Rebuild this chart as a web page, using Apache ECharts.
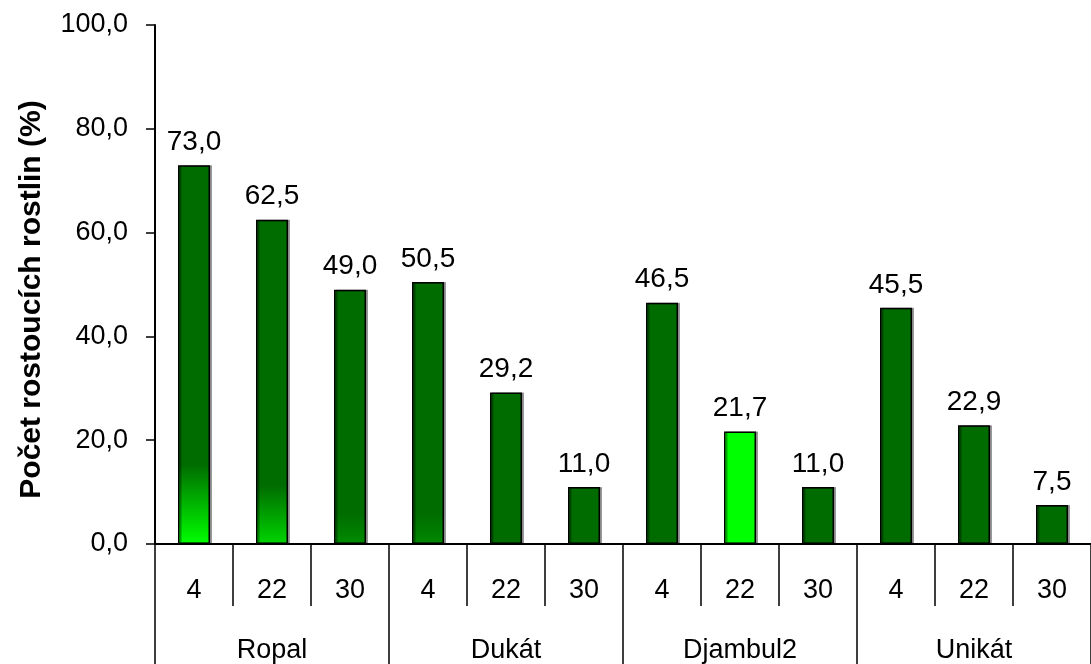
<!DOCTYPE html>
<html>
<head>
<meta charset="utf-8">
<script src="https://cdn.jsdelivr.net/npm/echarts@6/dist/echarts.min.js"></script>
<style>
  html, body { margin: 0; padding: 0; background: #fff; }
  #chart { width: 1091px; height: 664px; }
</style>
</head>
<body>
<div id="chart"></div>
<script>
// odrůdy (vnější popisky) a dávky (vnitřní popisky)
const varieties = ['Ropal', 'Dukát', 'Djambul2', 'Unikát'];
const doses = ['4', '22', '30'];
// počet rostoucích rostlin (%), po odrůdách
const values = [73.0, 62.5, 49.0, 50.5, 29.2, 11.0, 46.5, 21.7, 11.0, 45.5, 22.9, 7.5];
const yTicks = [0, 20, 40, 60, 80, 100];

const categories = [];
varieties.forEach(v => doses.forEach(d => categories.push(d)));

const FONT = '"Liberation Sans", Arial, sans-serif';
const DARK = '#006c00';
const BRIGHT = '#00ff00';

/** barva sloupce - některé mají světlý přechod u dna */
const barColor = (idx) => {
    const glow = { 0: ['#00ff00', 0.79], 1: ['#00d400', 0.82], 2: ['#008c00', 0.88], 3: ['#008800', 0.88] };
    if (idx === 7) {
        return BRIGHT;
    }
    if (glow[idx]) {
        return new echarts.graphic.LinearGradient(0, 0, 0, 1, [
            { offset: 0, color: DARK },
            { offset: glow[idx][1], color: DARK },
            { offset: 1, color: glow[idx][0] }
        ]);
    }
    return DARK;
};

const fmt = (v) => v.toFixed(1).replace('.', ',');

const chart = echarts.init(document.getElementById('chart'));
chart.setOption({
    animation: false,
    grid: { left: 155, right: 0, top: 25, bottom: 119 },
    xAxis: [
        {
            type: 'category',
            data: categories,
            position: 'bottom',
            axisLine: { lineStyle: { color: '#000', width: 2 } },
            axisTick: { show: true, length: 62, interval: 0, lineStyle: { color: '#000', width: 1.5 } },
            axisLabel: { interval: 0, margin: 33, fontSize: 27, color: '#000', fontFamily: FONT }
        },
        {
            type: 'category',
            data: varieties,
            position: 'bottom',
            offset: 0,
            axisLine: { show: false },
            axisTick: { show: true, length: 125, interval: 0, lineStyle: { color: '#000', width: 1.5 } },
            axisLabel: { interval: 0, margin: 93, fontSize: 27, color: '#000', fontFamily: FONT }
        }
    ],
    yAxis: {
        type: 'value',
        min: yTicks[0],
        max: yTicks[yTicks.length - 1],
        interval: yTicks[1] - yTicks[0],
        name: 'Počet rostoucích rostlin (%)',
        nameLocation: 'middle',
        nameGap: 108,
        nameTextStyle: { fontSize: 30, fontWeight: 'bold', color: '#000', fontFamily: FONT, padding: [0, 30, 0, 0] },
        axisLine: { show: true, lineStyle: { color: '#000', width: 2 } },
        axisTick: { show: true, length: 9, lineStyle: { color: '#000', width: 1.5 } },
        splitLine: { show: false },
        axisLabel: { fontSize: 27, color: '#000', margin: 27, fontFamily: FONT, formatter: fmt }
    },
    series: [
        {
            type: 'bar',
            xAxisIndex: 0,
            barWidth: 32,
            data: values.map((v, i) => ({ value: v, itemStyle: { color: barColor(i) } })),
            itemStyle: {
                borderColor: '#000',
                borderWidth: 1.5,
                shadowColor: 'rgba(0,0,0,0.35)',
                shadowOffsetX: 2,
                shadowOffsetY: 0,
                shadowBlur: 0
            },
            label: {
                show: true,
                position: 'top',
                distance: 9,
                fontSize: 28,
                color: '#000',
                fontFamily: FONT,
                formatter: (p) => fmt(p.value)
            }
        }
    ]
});
</script>
</body>
</html>
